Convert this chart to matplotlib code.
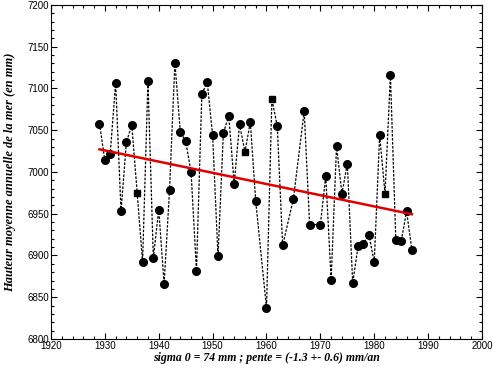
import numpy as np
import matplotlib.pyplot as plt
from matplotlib.ticker import MultipleLocator

# annual mean sea level (mm)
years = [1929, 1930, 1931, 1932, 1933, 1934, 1935, 1936, 1937, 1938,
         1939, 1940, 1941, 1942, 1943, 1944, 1945, 1946, 1947, 1948,
         1949, 1950, 1951, 1952, 1953, 1954, 1955, 1956, 1957, 1958,
         1960, 1961, 1962, 1963, 1965, 1967, 1968, 1970, 1971, 1972,
         1973, 1974, 1975, 1976, 1977, 1978, 1979, 1980, 1981, 1982,
         1983, 1984, 1985, 1986, 1987]
level = [7058, 7014, 7022, 7107, 6953, 7036, 7056, 6975, 6892, 7109,
         6897, 6955, 6866, 6978, 7131, 7048, 7037, 7000, 6882, 7093,
         7108, 7044, 6899, 7047, 7067, 6986, 7057, 7024, 7060, 6965,
         6837, 7087, 7055, 6912, 6968, 7073, 6937, 6937, 6995, 6871,
         7031, 6974, 7010, 6867, 6911, 6914, 6925, 6892, 7044, 6974,
         7116, 6919, 6917, 6953, 6906]
# years plotted with a square marker
square_years = [1936, 1956, 1961, 1982]

x = np.array(years)
y = np.array(level)
sq = np.isin(x, square_years)

fig = plt.figure(figsize=(4.93, 3.70), dpi=100)
ax = fig.add_axes([0.1034, 0.0838, 0.8743, 0.9027])

ax.plot(x, y, color='k', linestyle=(0, (2, 1.2)), linewidth=0.9, zorder=2)
ax.plot(x[~sq], y[~sq], 'o', color='k', markersize=5.5, zorder=3)
ax.plot(x[sq], y[sq], 's', color='k', markersize=5, zorder=3)

# least-squares trend
p = np.polyfit(x, y, 1)
xf = np.array([x[0], x[-1]])
ax.plot(xf, np.polyval(p, xf), color='#e00000', linewidth=1.8, zorder=4)

ax.set_xlim(1920, 2000)
ax.set_ylim(6800, 7200)
ax.xaxis.set_major_locator(MultipleLocator(10))
ax.xaxis.set_minor_locator(MultipleLocator(2))
ax.yaxis.set_major_locator(MultipleLocator(50))
ax.yaxis.set_minor_locator(MultipleLocator(10))
ax.tick_params(which='both', direction='in', top=True, right=True,
               labelsize=7, pad=1.5)
ax.tick_params(which='major', length=4, width=0.8)
ax.tick_params(which='minor', length=2.5, width=0.8)
for lab in ax.get_xticklabels() + ax.get_yticklabels():
    lab.set_family('Liberation Sans')

ax.set_xlabel('sigma 0 = 74 mm ; pente = (-1.3 +- 0.6) mm/an',
              family='Liberation Serif', style='italic', weight='bold',
              fontsize=8.5, labelpad=1)
ax.set_ylabel('Hauteur moyenne annuelle de la mer (en mm)',
              family='Liberation Serif', style='italic', weight='bold',
              fontsize=9, labelpad=8)

fig.savefig('out.png', dpi=100)
